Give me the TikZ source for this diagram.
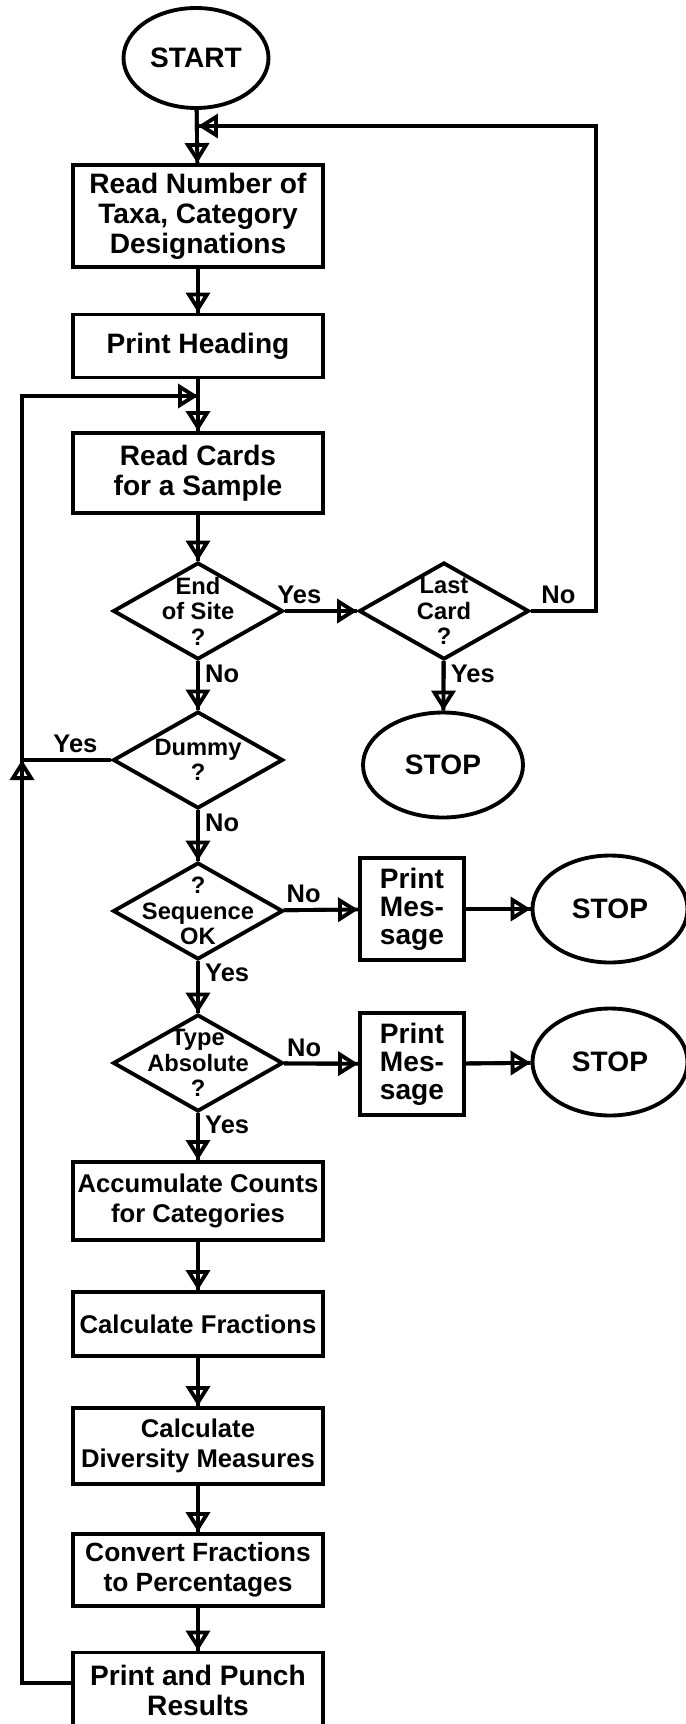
\documentclass[tikz,border=0pt]{standalone}
\usepackage{fontspec}
\setmainfont{Liberation Sans}
\usepackage{tikz}
\usetikzlibrary{arrows.meta,positioning,shapes.geometric}

\begin{document}
\begin{tikzpicture}[
    x=0.02cm, y=-0.02cm,
    font=\bfseries\fontsize{16}{17}\selectfont,
    stepbox/.style={draw, line width=2.2pt, minimum width=5cm, align=center, inner sep=1pt},
    tight/.style={font=\bfseries\fontsize{14.6}{17}\selectfont},
    msgbox/.style={draw, line width=2.2pt, minimum width=2.08cm, minimum height=2.04cm, align=center,
      inner sep=1pt, font=\bfseries\fontsize{16}{16}\selectfont},
    terminal/.style={ellipse, draw, line width=2.2pt, inner sep=0pt},
    decision/.style={diamond, draw, line width=2.2pt, minimum width=3.4cm, minimum height=1.94cm, inner sep=0pt},
    intext/.style={align=center, font=\bfseries\fontsize{13.5}{14.5}\selectfont},
    flow/.style={line width=2.2pt, -{Triangle[open,length=0.4cm,width=0.48cm]},
      postaction={draw,-,line width=2.2pt}},
    ans/.style={inner sep=3pt, font=\bfseries\fontsize{14.5}{14}\selectfont}
  ]
  \useasboundingbox (0,0) rectangle (686,1724);

  % main column
  \node[terminal, minimum width=2.9cm, minimum height=2cm] (start) at (196,58) {START};
  \node[stepbox, minimum height=2.04cm] (readtaxa) at (198,216) {Read Number of\\Taxa, Category\\Designations};
  \node[stepbox, minimum height=1.26cm] (heading) at (198,346) {Print Heading};
  \node[stepbox, minimum height=1.6cm] (cards) at (198,473) {Read Cards\\for a Sample};
  \node[decision, label={[intext]center:End\\of Site\\?}] (endsite) at (198,611) {};
  \node[decision, label={[intext]center:Dummy\\?}] (dummy) at (198,760) {};
  \node[decision, label={[intext]center:?\\Sequence\\OK}] (seqok) at (198,911) {};
  \node[decision, label={[intext]center:Type\\Absolute\\?}] (absolute) at (198,1063) {};
  \node[stepbox, tight, minimum height=1.56cm] (accum) at (198,1201) {Accumulate Counts\\for Categories};
  \node[stepbox, tight, minimum height=1.28cm] (fractions) at (198,1324) {Calculate Fractions};
  \node[stepbox, tight, minimum height=1.52cm] (diversity) at (198,1446) {Calculate\\Diversity Measures};
  \node[stepbox, font=\bfseries\fontsize{15}{17}\selectfont, minimum height=1.44cm] (percent) at (198,1570) {Convert Fractions\\to Percentages};
  \node[stepbox, minimum height=1.5cm] (punch) at (198,1690) {Print and Punch\\Results};

  % side branches
  \node[decision, label={[intext]center:Last\\Card\\?}] (lastcard) at (444,611) {};
  \node[terminal, minimum width=3.2cm, minimum height=2.1cm] (stopa) at (443,765) {STOP};
  \node[msgbox] (msgseq) at (412,909) {Print\\Mes-\\sage};
  \node[terminal, minimum width=3.1cm, minimum height=2.14cm] (stopb) at (610,909) {STOP};
  \node[msgbox] (msgtype) at (412,1064) {Print\\Mes-\\sage};
  \node[terminal, minimum width=3.1cm, minimum height=2.14cm] (stopc) at (610,1062) {STOP};

  % loop corners
  \coordinate (jtop) at (198,126);
  \coordinate (rtop) at (596,126);
  \coordinate (jloop) at (198,396);
  \coordinate (lloop) at (22,396);
  \coordinate (ldummy) at (22,760);

  \draw[flow] (start) -- (readtaxa);
  \draw[flow] (readtaxa) -- (heading);
  \draw[flow] (heading) -- (cards);
  \draw[flow] (cards) -- (endsite);
  \draw[flow] (endsite) -- node[ans, above, pos=0.2] {Yes} (lastcard);
  \draw[flow] (lastcard.east) -- node[ans, above right, pos=0.05] {No} (lastcard.east -| rtop) -- (rtop) -- (jtop);
  \draw[flow] (lastcard) -- node[ans, right, pos=0.25] {Yes} (stopa);
  \draw[flow] (endsite) -- node[ans, right, pos=0.25] {No} (dummy);
  \draw[flow] (dummy.west) -- node[ans, above, pos=0.4] {Yes} (ldummy) -- (lloop) -- (jloop);
  \draw[flow] (punch.west |- 0,1683) -| (ldummy);
  \draw[flow] (dummy) -- node[ans, right, pos=0.25] {No} (seqok);
  \draw[flow] (seqok) -- node[ans, above, pos=0.27] {No} (msgseq);
  \draw[flow] (msgseq) -- (stopb);
  \draw[flow] (seqok) -- node[ans, right, pos=0.22] {Yes} (absolute);
  \draw[flow] (absolute) -- node[ans, above, pos=0.27] {No} (msgtype);
  \draw[flow] (msgtype) -- (stopc);
  \draw[flow] (absolute) -- node[ans, right, pos=0.25] {Yes} (accum);
  \draw[flow] (accum) -- (fractions);
  \draw[flow] (fractions) -- (diversity);
  \draw[flow] (diversity) -- (percent);
  \draw[flow] (percent) -- (punch);
\end{tikzpicture}
\end{document}
